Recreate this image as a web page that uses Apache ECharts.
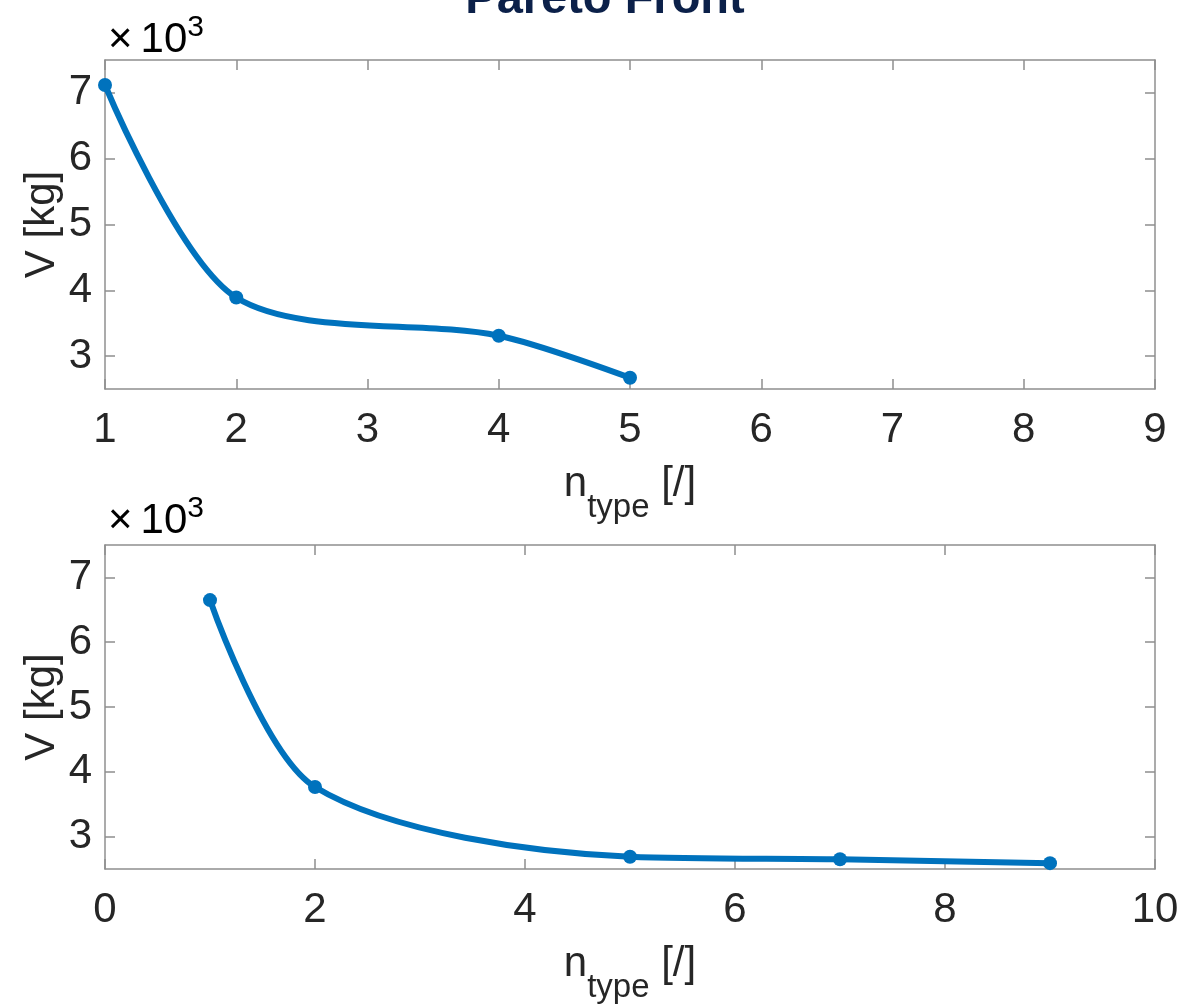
<!DOCTYPE html>
<html>
<head>
<meta charset="utf-8">
<script src="https://cdn.jsdelivr.net/npm/echarts@6/dist/echarts.min.js"></script>
<style>
  html, body { margin: 0; padding: 0; background: #fff; }
  #chart { width: 1188px; height: 1005px; }
</style>
</head>
<body>
<div id="chart"></div>
<script>
// Pareto front: mass V [kg] against number of types n_type
const topTypes = [1, 2, 4, 5];
const topMass = [7120, 3890, 3310, 2670];

const bottomTypes = [1, 2, 5, 7, 9];
const bottomMass = [6650, 3765, 2690, 2650, 2590];

const massTicks = [3000, 4000, 5000, 6000, 7000];

const FONT = '"Liberation Sans", Arial, Helvetica, sans-serif';
const LINE_BLUE = '#0072BD';
const BOX_GREY = '#8f8f8f';
const TEXT_DARK = '#262626';

const chart = echarts.init(document.getElementById('chart'), null, { renderer: 'canvas' });

const nameRich = {
  n: { fontSize: 42, lineHeight: 42, verticalAlign: 'top', color: TEXT_DARK, fontFamily: FONT },
  s: { fontSize: 33, lineHeight: 33, padding: [28, 0, 0, 0], verticalAlign: 'top', color: TEXT_DARK, fontFamily: FONT }
};

function xAxisPair(gridIndex, min, max, interval) {
  const common = {
    gridIndex, type: 'value', min, max, interval,
    splitLine: { show: false },
    axisLine: { show: true, onZero: false, lineStyle: { color: BOX_GREY, width: 1.5 } },
    axisTick: { show: true, inside: true, length: 10, lineStyle: { color: BOX_GREY, width: 1.5 } }
  };
  return [
    Object.assign({}, common, {
      position: 'bottom',
      axisLabel: { show: true, fontSize: 42, color: TEXT_DARK, fontFamily: FONT, margin: 20 },
      name: '{n|n}{s|type} {n|[/]}',
      nameLocation: 'middle',
      nameGap: 74,
      nameMoveOverlap: false,
      nameTextStyle: { fontSize: 42, color: TEXT_DARK, fontFamily: FONT, rich: nameRich }
    }),
    Object.assign({}, common, {
      position: 'top',
      axisLabel: { show: false }
    })
  ];
}

function yAxisPair(gridIndex) {
  const common = {
    gridIndex, type: 'value', min: 2500, max: 7500,
    splitLine: { show: false },
    axisLine: { show: true, onZero: false, lineStyle: { color: BOX_GREY, width: 1.5 } },
    axisTick: { show: true, inside: true, length: 10, customValues: massTicks,
                lineStyle: { color: BOX_GREY, width: 1.5 } }
  };
  return [
    Object.assign({}, common, {
      position: 'left',
      axisLabel: { show: true, customValues: massTicks, fontSize: 42, color: TEXT_DARK,
                   fontFamily: FONT, margin: 13, formatter: v => String(v / 1000) },
      name: 'V [kg]',
      nameLocation: 'middle',
      nameGap: 42,
      nameMoveOverlap: false,
      nameTextStyle: { fontSize: 42, color: TEXT_DARK, fontFamily: FONT }
    }),
    Object.assign({}, common, {
      position: 'right',
      axisLabel: { show: false }
    })
  ];
}

function paretoSeries(axisIndex, xs, ys) {
  return {
    type: 'line',
    xAxisIndex: axisIndex,
    yAxisIndex: axisIndex,
    data: xs.map((x, i) => [x, ys[i]]),
    smooth: 0.3,
    symbol: 'circle',
    symbolSize: 14,
    showSymbol: true,
    lineStyle: { color: LINE_BLUE, width: 6 },
    itemStyle: { color: LINE_BLUE },
    animation: false,
    z: 3
  };
}

const exponentRich = {
  x: { fontSize: 42, color: TEXT_DARK, fontFamily: FONT, padding: [0, 8, 0, 0] },
  t: { fontSize: 42, color: TEXT_DARK, fontFamily: FONT },
  e: { fontSize: 30, color: TEXT_DARK, fontFamily: FONT, padding: [0, 0, 24, 0] }
};

const option = {
  backgroundColor: '#ffffff',
  animation: false,
  grid: [
    { left: 105, top: 60, width: 1050, height: 329, containLabel: false },
    { left: 105, top: 545, width: 1050, height: 324, containLabel: false }
  ],
  xAxis: [].concat(xAxisPair(0, 1, 9, 1), xAxisPair(1, 0, 10, 2)),
  yAxis: [].concat(yAxisPair(0), yAxisPair(1)),
  series: [
    paretoSeries(0, topTypes, topMass),
    paretoSeries(2, bottomTypes, bottomMass)
  ],
  graphic: [
    {
      type: 'text', x: 605, y: 0,
      style: { text: 'Pareto Front', fontSize: 47, fontWeight: 'bold', fontFamily: FONT,
               fill: '#0b2049', align: 'center', verticalAlign: 'middle' }
    },
    {
      type: 'text', x: 108, y: 67,
      style: { text: '{x|×}{t|10}{e|3}', rich: exponentRich, align: 'left', verticalAlign: 'bottom' }
    },
    {
      type: 'text', x: 108, y: 548,
      style: { text: '{x|×}{t|10}{e|3}', rich: exponentRich, align: 'left', verticalAlign: 'bottom' }
    }
  ]
};

chart.setOption(option);
</script>
</body>
</html>
